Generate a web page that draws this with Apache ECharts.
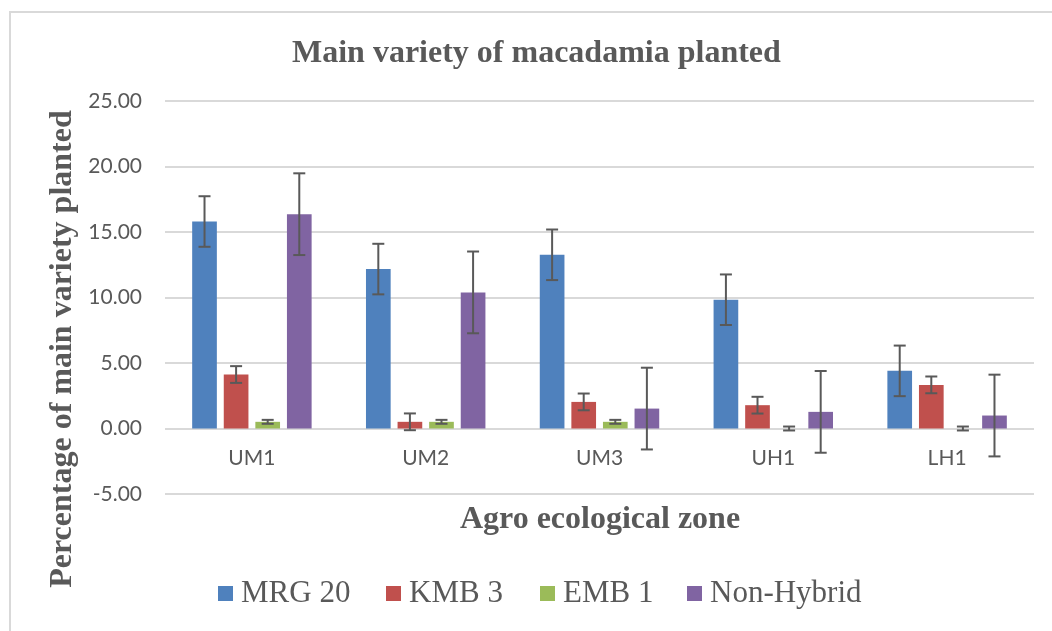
<!DOCTYPE html>
<html>
<head>
<meta charset="utf-8">
<script src="https://cdn.jsdelivr.net/npm/echarts@6/dist/echarts.min.js"></script>
<style>
  html, body { margin: 0; padding: 0; background: #fff; }
  #chart { width: 1052px; height: 631px; }
</style>
</head>
<body>
<div id="chart"></div>
<script>
// zones (x axis)
const zones = ['UM1', 'UM2', 'UM3', 'UH1', 'LH1'];
const varieties = ['MRG 20', 'KMB 3', 'EMB 1', 'Non-Hybrid'];
const colors = ['#4f81bd', '#c0504d', '#9bbb59', '#8064a2'];

// percentages
const mrg20 = [15.80, 12.17, 13.26, 9.83, 4.40];
const kmb3 = [4.12, 0.51, 2.03, 1.78, 3.33];
const emb1 = [0.51, 0.51, 0.51, 0.00, 0.00];
const nonHybrid = [16.36, 10.39, 1.52, 1.27, 0.99];

// error bar half-lengths
const mrg20Err = [1.93, 1.93, 1.93, 1.93, 1.93];
const kmb3Err = [0.64, 0.64, 0.64, 0.64, 0.64];
const emb1Err = [0.15, 0.15, 0.15, 0.15, 0.15];
const nonHybridErr = [3.12, 3.12, 3.12, 3.12, 3.12];

const yTicks = [-5, 0, 5, 10, 15, 20, 25];

const values = [mrg20, kmb3, emb1, nonHybrid];
const errors = [mrg20Err, kmb3Err, emb1Err, nonHybridErr];

const BAR_W = 0.142;   // bar width as part of the band
const BAR_GAP = 0.28;  // gap between bars, part of bar width

const chart = echarts.init(document.getElementById('chart'));

const barSeries = varieties.map((name, s) => ({
  name: name,
  type: 'bar',
  data: values[s],
  barWidth: (BAR_W * 100) + '%',
  barGap: (BAR_GAP * 100) + '%',
  itemStyle: { color: colors[s] },
  z: 2
}));

// error bars drawn as custom series over the bars
const errSeries = varieties.map((name, s) => ({
  type: 'custom',
  data: values[s].map((v, i) => [i, v, errors[s][i]]),
  encode: { x: 0, y: 1 },
  z: 5,
  silent: true,
  renderItem: function (params, api) {
    const x = api.value(0), v = api.value(1), e = api.value(2);
    const band = api.size([1, 0])[0];
    const off = (s - 1.5) * band * BAR_W * (1 + BAR_GAP);
    const top = api.coord([x, v + e]);
    const bot = api.coord([x, v - e]);
    const cx = top[0] + off;
    const half = 6;
    const style = { stroke: '#595959', lineWidth: 2 };
    return {
      type: 'group',
      children: [
        { type: 'line', shape: { x1: cx, y1: top[1], x2: cx, y2: bot[1] }, style: style },
        { type: 'line', shape: { x1: cx - half, y1: top[1], x2: cx + half, y2: top[1] }, style: style },
        { type: 'line', shape: { x1: cx - half, y1: bot[1], x2: cx + half, y2: bot[1] }, style: style }
      ]
    };
  }
}));

const SERIF = 'Liberation Serif';

const serifBold = {
  fontFamily: SERIF,
  fontWeight: 'bold',
  fontSize: 32,
  fill: '#595959'
};

// legend drawn by hand so it keeps the serif face
const legendX = [218, 386, 540, 687];
const legendItems = [];
varieties.forEach((name, s) => {
  legendItems.push({
    type: 'rect',
    shape: { x: legendX[s], y: 586, width: 15, height: 15 },
    style: { fill: colors[s] }
  });
  legendItems.push({
    type: 'text',
    x: legendX[s] + 23,
    y: 594,
    style: {
      text: name,
      fontFamily: SERIF,
      fontSize: 31,
      fill: '#595959',
      align: 'left',
      verticalAlign: 'middle'
    }
  });
});

const option = {
  animation: false,
  title: {
    text: 'Main variety of macadamia planted',
    left: 287,
    top: 33,
    textStyle: {
      fontFamily: SERIF,
      fontWeight: 'bold',
      fontSize: 32,
      color: '#595959'
    }
  },
  grid: {
    left: 165,
    right: 18,
    top: 101,
    bottom: 137
  },
  xAxis: {
    type: 'category',
    data: zones,
    offset: -65.5,
    axisLine: { show: false },
    axisTick: { show: false },
    axisLabel: {
      margin: 19,
      fontFamily: 'Lato',
      fontSize: 21,
      color: '#595959'
    }
  },
  yAxis: {
    type: 'value',
    min: yTicks[0],
    max: yTicks[yTicks.length - 1],
    interval: 5,
    axisLine: { show: false },
    axisTick: { show: false },
    splitLine: { lineStyle: { color: '#d9d9d9', width: 2 } },
    axisLabel: {
      margin: 23,
      fontFamily: 'Lato',
      fontSize: 21,
      color: '#595959',
      formatter: v => v.toFixed(2)
    }
  },
  graphic: [
    {
      type: 'rect',
      silent: true,
      shape: { x: 10, y: 12, width: 1200, height: 800 },
      style: { fill: 'none', stroke: '#d9d9d9', lineWidth: 2 },
      z: -10
    },
    {
      type: 'text',
      x: 63,
      y: 349,
      rotation: Math.PI / 2,
      style: Object.assign({
        text: 'Percentage of main variety planted',
        align: 'center',
        verticalAlign: 'middle'
      }, serifBold)
    },
    {
      type: 'text',
      x: 600,
      y: 520,
      style: Object.assign({
        text: 'Agro ecological zone',
        align: 'center',
        verticalAlign: 'middle'
      }, serifBold)
    }
  ].concat(legendItems),
  series: barSeries.concat(errSeries)
};

chart.setOption(option);
</script>
</body>
</html>
